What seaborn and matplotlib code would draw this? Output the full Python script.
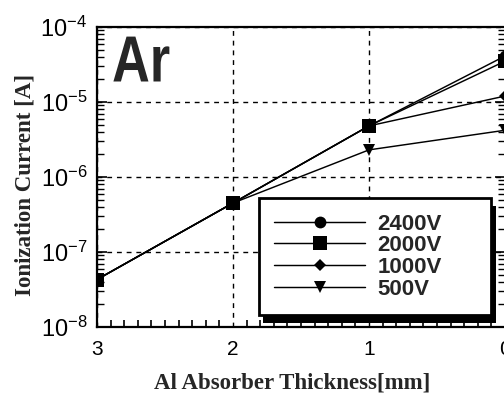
import numpy as np
import pandas as pd
import matplotlib
matplotlib.use("Agg")
import matplotlib.pyplot as plt
import matplotlib.patheffects as pe
from matplotlib.transforms import Affine2D
from matplotlib.ticker import LogLocator, MultipleLocator, FixedLocator
import seaborn as sns

# ---- data ----
thickness = [3, 2, 1, 0]
current_2400 = [4.3e-8, 4.5e-7, 4.8e-6, 4.1e-5]
current_2000 = [4.3e-8, 4.5e-7, 4.8e-6, 3.5e-5]
current_1000 = [4.3e-8, 4.5e-7, 4.8e-6, 1.2e-5]
current_500 = [4.3e-8, 4.5e-7, 2.3e-6, 4.2e-6]
series_labels = ["2400V", "2000V", "1000V", "500V"]
x_ticks = [3, 2, 1, 0]


class HorizontalSqueeze(pe.AbstractPathEffect):
    """Draw text narrower (condensed look) while keeping it real text."""

    def __init__(self, sx=0.8):
        super().__init__()
        self.sx = sx

    def draw_path(self, renderer, gc, tpath, affine, rgbFace=None):
        renderer.draw_path(gc, tpath, Affine2D().scale(self.sx, 1.0) + affine, rgbFace)


sns.set_style("ticks")
plt.rcParams["font.family"] = ["Liberation Sans", "DejaVu Sans"]
plt.rcParams["mathtext.default"] = "regular"

fig = plt.figure(figsize=(5.04, 3.94), dpi=100)
ax = fig.add_axes([0.1925, 0.170, 0.8095, 0.7615])

df = pd.DataFrame({
    "thickness": thickness * 4,
    "current": current_2400 + current_2000 + current_1000 + current_500,
    "voltage": np.repeat(series_labels, len(thickness)),
})

styles = {
    "2400V": dict(marker="o", markersize=8.5),
    "2000V": dict(marker="s", markersize=9.5),
    "1000V": dict(marker="D", markersize=6.0),
    "500V": dict(marker="v", markersize=8.5),
}
draw_order = ["500V", "1000V", "2400V", "2000V"]
for lab in draw_order:
    sub = df[df["voltage"] == lab]
    sns.lineplot(data=sub, x="thickness", y="current", ax=ax, color="black",
                 linewidth=1.05, markeredgewidth=0, label=lab,
                 zorder=3, clip_on=True, **styles[lab])

ax.set_yscale("log")
ax.set_xlim(3, 0)
ax.set_ylim(1e-8, 1e-4)

ax.xaxis.set_major_locator(FixedLocator(x_ticks))
ax.xaxis.set_minor_locator(MultipleLocator(0.1))
ax.yaxis.set_major_locator(LogLocator(base=10, numticks=10))
ax.yaxis.set_minor_locator(LogLocator(base=10, subs=np.arange(2, 10), numticks=20))
ax.yaxis.set_minor_formatter(plt.NullFormatter())

ax.tick_params(axis="both", which="both", direction="in", colors="black")
ax.tick_params(axis="x", which="major", length=0, labelsize=15, pad=9)
ax.tick_params(axis="x", which="minor", length=5, width=1.2, top=False, bottom=True)
ax.tick_params(axis="y", which="major", length=7, width=1.2, labelsize=17, pad=7,
               left=True, right=True)
ax.tick_params(axis="y", which="minor", length=5, width=1.0, left=True, right=True)

for s in ax.spines.values():
    s.set_linewidth(1.6)
    s.set_color("black")

ax.grid(True, which="major", color="black", linestyle=(0, (3.5, 3.5)), linewidth=1.0)

ax.set_xlabel("Al Absorber Thickness[mm]", fontfamily="Liberation Serif",
              fontweight="bold", fontsize=16.5)
ax.set_ylabel("Ionization Current [A]", fontfamily="Liberation Serif",
              fontweight="bold", fontsize=16.5)
ax.xaxis.set_label_coords(0.478, -0.15)
ax.yaxis.set_label_coords(-0.15, 0.473)

title = ax.text(0.037, 0.975, "Ar", transform=ax.transAxes, ha="left", va="top",
                fontsize=47, fontweight="bold",
                fontfamily=["Liberation Sans", "DejaVu Sans"])
title.set_path_effects([HorizontalSqueeze(0.8)])

handles, labels = ax.get_legend_handles_labels()
order = [labels.index(l) for l in series_labels]
leg = ax.legend([handles[i] for i in order], [labels[i] for i in order],
                loc="upper left", bbox_to_anchor=(0.396, 0.047, 0.57, 0.383),
                mode="expand", frameon=True, fancybox=False,
                prop={"size": 16, "weight": "bold"},
                edgecolor="black", framealpha=1, borderpad=0.7,
                handlelength=4.1, handletextpad=0.55, labelspacing=0.03,
                borderaxespad=0, numpoints=1)
leg.get_frame().set_linewidth(2.0)
leg.get_frame().set_path_effects([
    pe.SimplePatchShadow(offset=(3.5, -5.5), shadow_rgbFace="black", alpha=1),
    pe.Normal()])
leg.set_zorder(5)

fig.savefig("out.png", dpi=100)
